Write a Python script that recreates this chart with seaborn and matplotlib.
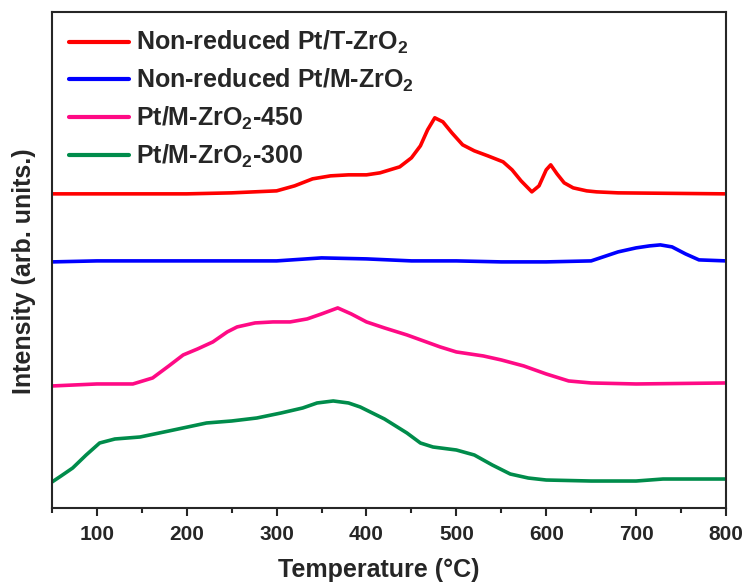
import numpy as np
import pandas as pd
import seaborn as sns
import matplotlib.pyplot as plt

# H2-TPR profiles, intensity in arbitrary units (offset stacked)
labels = [r'Non-reduced Pt/T-ZrO$_\mathbf{2}$', r'Non-reduced Pt/M-ZrO$_\mathbf{2}$',
          r'Pt/M-ZrO$_\mathbf{2}$-450', r'Pt/M-ZrO$_\mathbf{2}$-300']
colors = ['#FF0000', '#0000FF', '#FF0A85', '#008C4B']

t_red = [50, 100, 150, 200, 250, 300, 320, 340, 360, 380, 400, 415, 437, 450, 460, 468, 476, 485,
         495, 507, 520, 535, 552, 562, 572, 584, 592, 600, 605, 612, 620, 630, 645, 656, 680, 800]
i_red = [314, 314, 314, 314, 315, 317, 322, 329, 332, 333, 333, 335, 341, 350, 362, 378, 390, 386,
         375, 363, 357, 352, 346, 338, 327, 316, 322, 338, 343, 334, 325, 320, 317, 316, 315, 314]

t_blue = [50, 100, 200, 300, 350, 400, 450, 500, 550, 600, 650, 660, 680, 700, 715, 727, 740, 755, 770, 800]
i_blue = [246, 247, 247, 247, 250, 249, 247, 247, 246, 246, 247, 250, 256, 260, 262, 263, 261, 254, 248, 247]

t_pink = [50, 100, 140, 162, 180, 196, 212, 229, 245, 256, 276, 296, 315, 334, 350, 368, 383, 400, 420,
          445, 482, 500, 530, 550, 575, 600, 625, 650, 700, 800]
i_pink = [122, 124, 124, 130, 142, 153, 159, 166, 176, 181, 185, 186, 186, 189, 194, 200, 194, 186, 180,
          173, 161, 156, 152, 148, 142, 134, 127, 125, 124, 125]

t_green = [50, 60, 73, 88, 103, 120, 148, 180, 222, 250, 278, 305, 329, 345, 363, 380, 393, 420, 445,
           460, 474, 500, 520, 540, 560, 580, 600, 650, 700, 730, 800]
i_green = [26, 32, 40, 53, 65, 69, 71, 77, 85, 87, 90, 95, 100, 105, 107, 105, 101, 89, 75,
           65, 61, 58, 53, 43, 34, 30, 28, 27, 27, 29, 29]

frames = []
for lab, t, i in zip(labels, [t_red, t_blue, t_pink, t_green], [i_red, i_blue, i_pink, i_green]):
    frames.append(pd.DataFrame({'Temperature': t, 'Intensity': i, 'sample': lab}))
df = pd.concat(frames, ignore_index=True)

sns.set_style('ticks')
plt.rcParams['font.family'] = ['Liberation Sans', 'DejaVu Sans']
plt.rcParams['font.weight'] = 'bold'
plt.rcParams['mathtext.fontset'] = 'custom'
plt.rcParams['mathtext.rm'] = 'Liberation Sans:bold'
plt.rcParams['mathtext.bf'] = 'Liberation Sans:bold'

fig = plt.figure(figsize=(7.48, 5.88), dpi=100)
ax = fig.add_axes([0.0695, 0.136, 0.901, 0.844])

sns.lineplot(data=df, x='Temperature', y='Intensity', hue='sample', palette=colors,
             hue_order=labels, linewidth=2.6, sort=False, ax=ax)

ax.set_xlim(50, 800)
ax.set_ylim(0, 496)
ax.set_xticks(range(100, 801, 100))
ax.set_xticks(range(50, 801, 50), minor=True)
ax.set_yticks([])
ax.tick_params(axis='x', which='major', direction='out', length=6, width=1.5, labelsize=15, pad=6)
ax.tick_params(axis='x', which='minor', direction='out', length=3.5, width=1.5)
for lbl in ax.get_xticklabels():
    lbl.set_fontweight('bold')
for sp in ax.spines.values():
    sp.set_linewidth(1.5)
    sp.set_visible(True)

ax.set_xlabel('Temperature (°C)', fontsize=18, fontweight='bold')
ax.xaxis.set_label_coords(0.485, -0.1)
ax.set_ylabel('Intensity (arb. units.)', fontsize=18, fontweight='bold')
ax.yaxis.set_label_coords(-0.024, 0.478)

leg = ax.legend(loc='upper left', frameon=False, handlelength=2.4,
                handletextpad=0.25, labelspacing=0.42, borderaxespad=0.3,
                prop={'weight': 'bold', 'size': 18})
for line in leg.get_lines():
    line.set_linewidth(3)

fig.savefig('out.png', dpi=100)
